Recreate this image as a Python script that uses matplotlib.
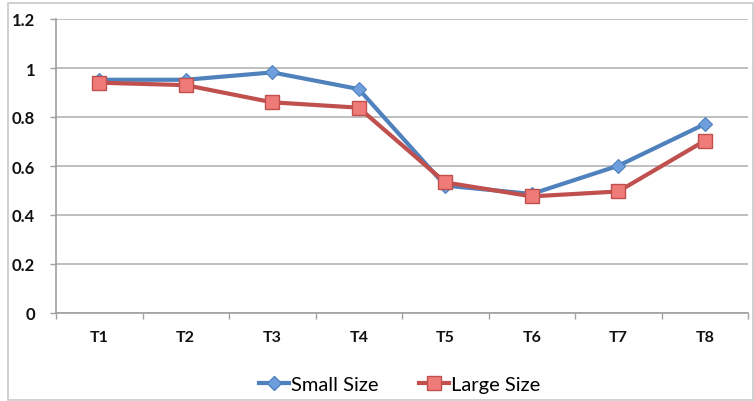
import matplotlib
matplotlib.use("Agg")
import matplotlib.pyplot as plt
from matplotlib.patches import Rectangle
from matplotlib.lines import Line2D

categories = ["T1", "T2", "T3", "T4", "T5", "T6", "T7", "T8"]
small_size = [0.952, 0.952, 0.982, 0.914, 0.520, 0.486, 0.601, 0.771]
large_size = [0.940, 0.930, 0.860, 0.838, 0.533, 0.476, 0.496, 0.703]
y_ticks = [0, 0.2, 0.4, 0.6, 0.8, 1.0, 1.2]
y_labels = ["0", "0.2", "0.4", "0.6", "0.8", "1", "1.2"]

plt.rcParams["font.family"] = ["Lato", "DejaVu Sans"]

W, H = 754, 402
fig = plt.figure(figsize=(W / 100, H / 100), dpi=100)
fig.patch.set_facecolor("white")

# outer chart frame
fig.add_artist(Rectangle((8 / W, 1 / H), 745 / W, (H - 5) / H,
                         transform=fig.transFigure, fill=False,
                         edgecolor="#c8c8c8", linewidth=1.2))

ax = fig.add_axes([56 / W, 1 - 314 / H, 692 / W, 294 / H])
ax.set_facecolor("white")

x = [i + 0.5 for i in range(len(categories))]

blue_line = "#4f81bd"
blue_fill = "#6e9fdc"
red_line = "#c0504d"
red_fill = "#ef7b78"

ax.plot(x, small_size, color=blue_line, linewidth=3.0, marker="D",
        markersize=7, markerfacecolor=blue_fill, markeredgecolor=blue_line,
        markeredgewidth=0.8, zorder=3, label="Small Size")
ax.plot(x, large_size, color=red_line, linewidth=3.0, marker="s",
        markersize=10, markerfacecolor=red_fill, markeredgecolor=red_line,
        markeredgewidth=1.0, zorder=4, label="Large Size")

ax.set_xlim(0, len(categories))
ax.set_ylim(0, 1.2)

ax.set_yticks(y_ticks)
ax.set_yticklabels(y_labels)
ax.yaxis.grid(True, color="#b4b4b4", linewidth=1.2)
ax.set_axisbelow(True)

ax.set_xticks(x)
ax.set_xticklabels(categories)
ax.set_xticks(range(len(categories) + 1), minor=True)
ax.tick_params(axis="x", which="major", length=0, pad=12)
ax.tick_params(axis="x", which="minor", length=4, color="#a0a0a0", width=1)
ax.tick_params(axis="y", length=4, color="#a0a0a0", width=1, pad=11)

for lab in ax.get_xticklabels():
    lab.set_fontweight("bold")
    lab.set_fontsize(11.5)
    lab.set_color("#111111")
for lab in ax.get_yticklabels():
    lab.set_fontweight("bold")
    lab.set_fontsize(12)
    lab.set_color("#111111")

for side in ["top", "right"]:
    ax.spines[side].set_visible(False)
for side in ["left", "bottom"]:
    ax.spines[side].set_color("#a0a0a0")
    ax.spines[side].set_linewidth(1.2)

handles = [
    Line2D([], [], color=blue_line, linewidth=3.0, marker="D", markersize=7,
           markerfacecolor=blue_fill, markeredgecolor=blue_line),
    Line2D([], [], color=red_line, linewidth=3.0, marker="s", markersize=10,
           markerfacecolor=red_fill, markeredgecolor=red_line),
]
fig.legend(handles, ["Small Size", "Large Size"], loc="center",
           bbox_to_anchor=(400 / W, 1 - 385 / H), ncol=2, frameon=False,
           fontsize=14.5, handlelength=1.5, handletextpad=0.1,
           columnspacing=2.0)

fig.savefig("out.png", dpi=100, facecolor="white")
